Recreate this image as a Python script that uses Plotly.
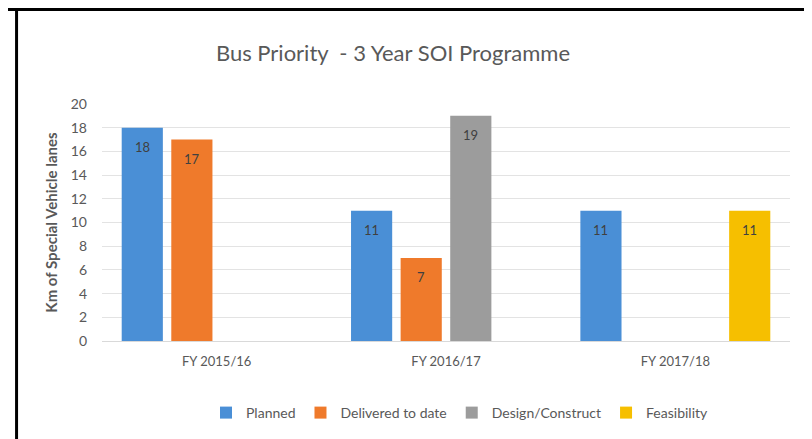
import plotly.graph_objects as go

years = ['FY 2015/16', 'FY 2016/17', 'FY 2017/18']
planned = [18, 11, 11]
delivered = [17, 7, None]
design = [None, 19, None]
feasibility = [None, None, 11]

series = [
    ('Planned', planned, '#4a8fd6'),
    ('Delivered to date', delivered, '#ef7a2b'),
    ('Design/Construct', design, '#9c9c9c'),
    ('Feasibility', feasibility, '#f6bf00'),
]

grey = '#595959'
fnt = 'Lato, Calibri, Arial, sans-serif'

# plot area in figure pixels (page has an 8px body margin)
L, T, PW, PH = 93.5, 96, 688.5, 237

fig = go.Figure()
for name, vals, col in series:
    fig.add_trace(go.Bar(x=years, y=vals, name=name, marker=dict(color=col, line=dict(width=0))))

# value labels sit inside the bars, just under the top
slot = 49.6
for i, (name, vals, col) in enumerate(series):
    for yr, v in zip(years, vals):
        if v is None:
            continue
        fig.add_annotation(x=yr, y=v, text=str(v), showarrow=False,
                           xshift=(i - 1.5) * slot, yshift=-19,
                           font=dict(family=fnt, size=13, color='#404040'))

# black frame lines of the original screenshot
ytop = (T + PH - 1.5) / PH
fig.add_shape(type='line', xref='paper', yref='paper', x0=-0.2, x1=1.1, y0=ytop, y1=ytop,
              line=dict(color='black', width=3))
xl = (8 - L) / PW
fig.add_shape(type='line', xref='paper', yref='paper', x0=xl, x1=xl, y0=-0.6, y1=ytop,
              line=dict(color='black', width=3))

fig.update_layout(
    width=812, height=439,
    margin=dict(l=L, r=812 - L - PW, t=T, b=439 - T - PH),
    paper_bgcolor='white', plot_bgcolor='white',
    barmode='group', bargap=0.135, bargroupgap=0.17,
    font=dict(family=fnt, color=grey),
    title=dict(text='Bus Priority  - 3 Year SOI Programme', x=385 / 812, xanchor='center',
               y=1 - 45 / 439, yanchor='middle', font=dict(size=22, color=grey)),
    xaxis=dict(showgrid=False, showline=True, linecolor='#d9d9d9', linewidth=1,
               ticks='', ticklabelstandoff=8, tickfont=dict(size=13, color=grey)),
    yaxis=dict(range=[0, 20], dtick=2, showgrid=True, gridcolor='#e3e3e3', gridwidth=1,
               zeroline=False, showline=False, ticks='', ticklabelstandoff=14,
               tickfont=dict(size=14, color=grey),
               title=dict(text='<b>Km of Special Vehicle lanes</b>', standoff=9,
                          font=dict(size=15, color=grey))),
    legend=dict(orientation='h', xref='container', yref='container', x=452 / 812, xanchor='center',
                y=1 - 405 / 439, yanchor='middle', font=dict(size=14, color=grey),
                itemwidth=30, traceorder='normal'),
    showlegend=True,
)

fig.write_html('out.html')
